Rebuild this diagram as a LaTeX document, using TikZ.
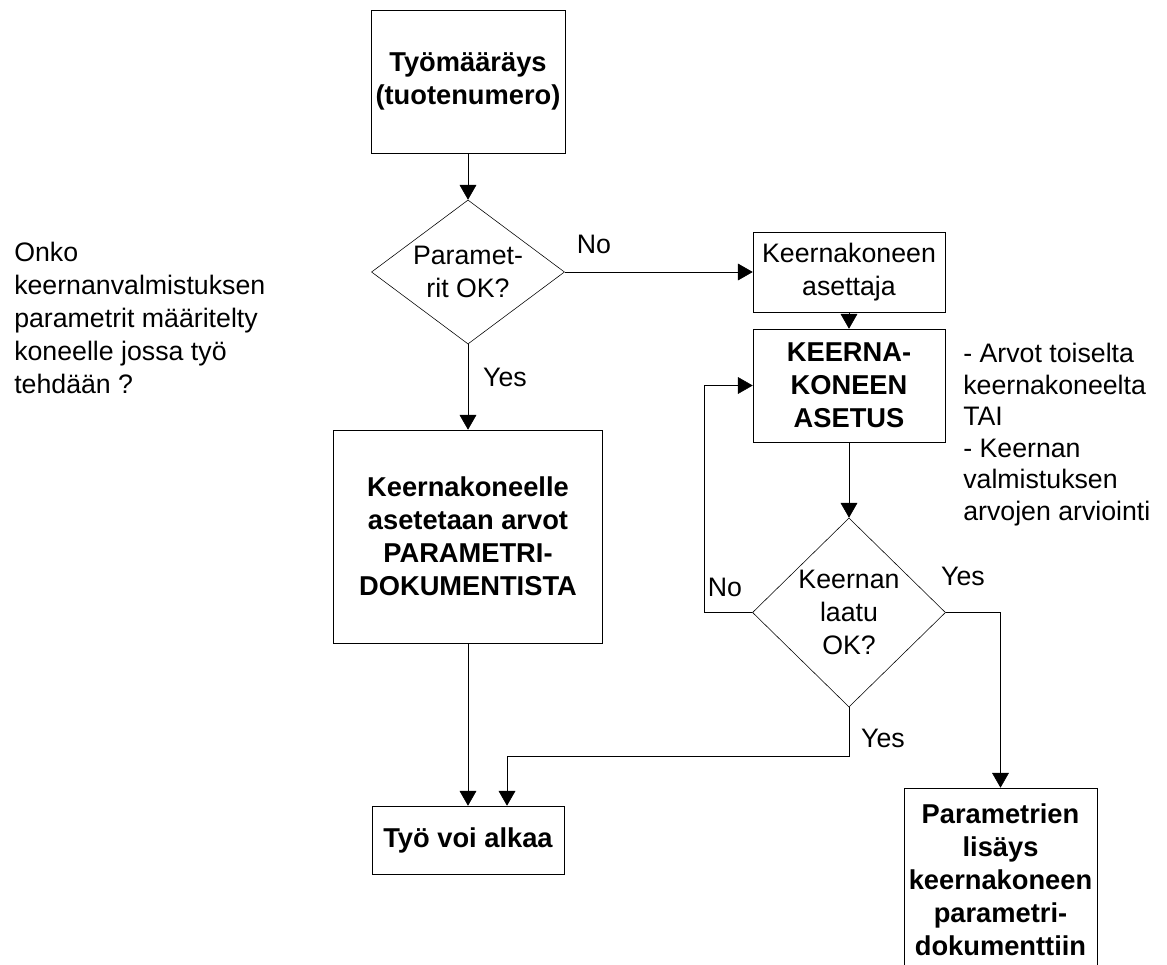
\documentclass[tikz,border=0pt]{standalone}
\usepackage{fontspec}
\setmainfont{Liberation Sans}
\usetikzlibrary{shapes.geometric, arrows.meta, positioning}
\newcommand{\letra}{\fontsize{19}{23.4}\selectfont}
\newcommand{\letranegrita}{\fontsize{19.4}{23.4}\selectfont\bfseries}
\tikzset{
	->, % Todos los conectores son dirigidos
	>={Triangle[length=0.37cm, width=0.42cm]}, % Punta triangular rellena
	line width=0.7pt, % Grosor de las lineas
	caja/.style={draw, rectangle, align=center, inner sep=0pt, font=\letra}, % Cajas normales
	cajanegrita/.style={caja, font=\letranegrita}, % Cajas con texto en negrita
	decision/.style={draw, diamond, inner sep=0pt}, % Rombos de decision
	texto/.style={align=center, inner sep=0pt, font=\letra} % Etiquetas sueltas
}

\begin{document}
\begin{tikzpicture}[x=0.025cm, y=-0.025cm]
	\useasboundingbox (0,0) rectangle (1167,965);

	\node[cajanegrita, minimum width=4.85cm, minimum height=3.575cm] (orden) at (468,81.5) {Työmääräys\\(tuotenumero)};
	\node[decision, minimum width=4.825cm, minimum height=3.6cm,
		label={[texto, name=paramtxt]center:Paramet-\\rit OK?}] (param) at (468,272) {};
	\node[caja, minimum width=4.8cm, minimum height=2cm] (asettaja) at (849,272) {Keernakoneen\\asettaja};
	\node[cajanegrita, minimum width=4.8cm, minimum height=2.825cm] (asetus) at (849,385.5) {KEERNA-\\KONEEN\\ASETUS};
	\node[decision, minimum width=4.825cm, minimum height=4.725cm,
		label={[texto, name=laatutxt]center:Keernan\\laatu\\OK?}] (laatu) at (849,612.5) {};
	\node[cajanegrita, minimum width=6.725cm, minimum height=5.325cm] (arvot) at (468,536.5) {Keernakoneelle\\asetetaan arvot\\PARAMETRI-\\DOKUMENTISTA};
	\node[cajanegrita, minimum width=4.8cm, minimum height=1.7cm] (alkaa) at (468,840) {Työ voi alkaa};
	\node[cajanegrita, minimum width=4.825cm, minimum height=4.6cm] (lisays) at (1000.5,880) {Parametrien\\lisäys\\keernakoneen\\parametri-\\dokumenttiin};

	\node[texto, align=left, anchor=north west, font=\fontsize{19}{23.5}\selectfont] (kysymys) at (14,242) {Onko\\keernanvalmistuksen\\parametrit määritelty\\koneelle jossa työ\\tehdään ?};
	\node[texto, align=left, anchor=north west, font=\fontsize{19}{22.4}\selectfont] (huomio) at (963,343) {- Arvot toiselta\\keernakoneelta\\TAI\\- Keernan\\valmistuksen\\arvojen arviointi};

	\node[texto] (ei1) at (594,244) {No};
	\node[texto] (kylla1) at (505,377) {Yes};
	\node[texto] (ei2) at (725,587) {No};
	\node[texto] (kylla2) at (963,576) {Yes};
	\node[texto] (kylla3) at (883,738) {Yes};

	\draw (orden) -- (param);
	\draw (param.east) -- (asettaja.west);
	\draw (asettaja) -- (asetus);
	\draw (asetus) -- (laatu);
	\draw (param) -- (arvot);
	\draw (arvot) -- (alkaa);
	\draw (laatu.west) -- ++(-48,0) |- (asetus.west);
	\draw (laatu.east) -| (lisays.north);
	\draw (laatu.south) -- ++(0,49) -| ([xshift=0.975cm]alkaa.north);
\end{tikzpicture}
\end{document}
